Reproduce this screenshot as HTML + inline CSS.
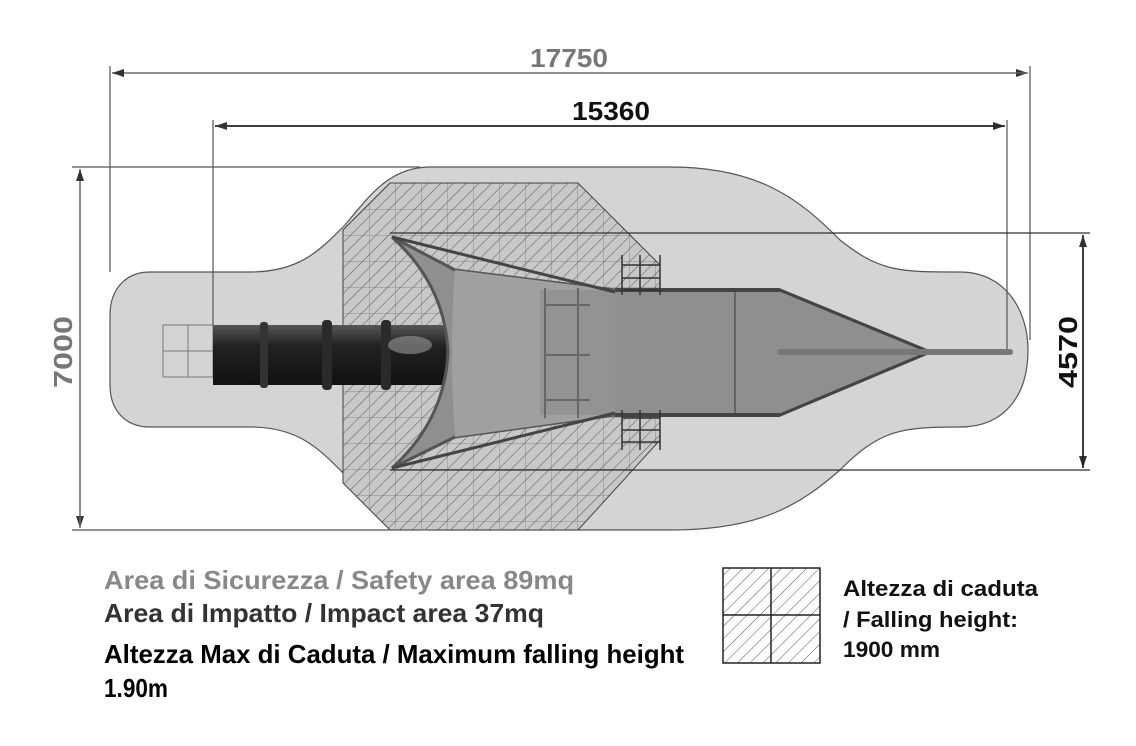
<!DOCTYPE html>
<html><head><meta charset="utf-8"><style>html,body{margin:0;padding:0;background:#fff}svg{display:block}</style></head>
<body>
<svg width="1136" height="746" viewBox="0 0 1136 746" xmlns="http://www.w3.org/2000/svg" font-family="Liberation Sans, sans-serif">
<defs>
<pattern id="hatch" width="9" height="9" patternUnits="userSpaceOnUse" patternTransform="rotate(45)">
<line x1="0" y1="0" x2="0" y2="9" stroke="#555" stroke-width="1"/>
</pattern>
<pattern id="grid" width="26" height="26" patternUnits="userSpaceOnUse" x="343" y="183">
<path d="M0 0H26M0 0V26" stroke="#8a8a8a" stroke-width="1" fill="none"/>
</pattern>
<linearGradient id="tube" x1="0" y1="0" x2="0" y2="1">
<stop offset="0" stop-color="#555"/><stop offset="0.35" stop-color="#222"/><stop offset="1" stop-color="#111"/>
</linearGradient>
<marker id="ar" markerWidth="12" markerHeight="8" refX="12" refY="4" orient="auto" markerUnits="userSpaceOnUse"><path d="M0 0L12 4L0 8z" fill="#333"/></marker>
</defs>

<path d="M150 272 H250 C300 272 320 250 345 225 C370 195 390 167 430 167 H670 C760 167 800 200 840 240 C880 272 900 272 960 272 C1005 272 1028 310 1028 350 C1028 395 1005 427 960 427 C900 427 880 430 840 470 C800 505 760 530 670 530 H430 C390 530 370 505 345 475 C320 450 300 427 250 427 H150 C125 427 110 410 110 385 V315 C110 290 125 272 150 272 Z" fill="#d4d4d4" stroke="#555" stroke-width="1.2"/>

<path d="M343 230 L390 183 H578 L660 265 V440 L578 530 H390 L343 483 Z" fill="#c8c8c8"/>
<path d="M343 230 L390 183 H578 L660 265 V440 L578 530 H390 L343 483 Z" fill="url(#grid)"/>
<path d="M343 230 L390 183 H578 L660 265 V440 L578 530 H390 L343 483 Z" fill="url(#hatch)" stroke="#444" stroke-width="1"/>

<g stroke="#555" stroke-width="1.2" fill="none">
<line x1="110" y1="66" x2="110" y2="272"/>
<line x1="1030" y1="66" x2="1030" y2="340"/>
<line x1="213" y1="120" x2="213" y2="328"/>
<line x1="1007" y1="120" x2="1007" y2="352"/>
<line x1="72" y1="167" x2="420" y2="167"/>
<line x1="72" y1="530" x2="420" y2="530"/>
<line x1="390" y1="233" x2="1090" y2="233" stroke="#333"/>
<line x1="390" y1="470" x2="1090" y2="470" stroke="#333"/>
</g>
<g stroke="#666" stroke-width="1.3">
<line x1="112" y1="73" x2="1028" y2="73" marker-end="url(#ar)"/>
<line x1="1028" y1="73" x2="112" y2="73" marker-end="url(#ar)"/>
<line x1="80" y1="169" x2="80" y2="528" marker-end="url(#ar)"/>
<line x1="80" y1="528" x2="80" y2="169" marker-end="url(#ar)"/>
</g>
<g stroke="#222" stroke-width="1.5">
<line x1="215" y1="126" x2="1005" y2="126" marker-end="url(#ar)"/>
<line x1="1005" y1="126" x2="215" y2="126" marker-end="url(#ar)"/>
<line x1="1083" y1="235" x2="1083" y2="468" marker-end="url(#ar)"/>
<line x1="1083" y1="468" x2="1083" y2="235" marker-end="url(#ar)"/>
</g>
<g font-weight="bold">
<text x="530" y="67" font-size="26" fill="#777" textLength="78" lengthAdjust="spacingAndGlyphs">17750</text>
<text x="572" y="120" font-size="26" fill="#111" textLength="78" lengthAdjust="spacingAndGlyphs">15360</text>
<text transform="translate(72 388) rotate(-90)" font-size="26" fill="#777" textLength="72" lengthAdjust="spacingAndGlyphs">7000</text>
<text transform="translate(1077 388) rotate(-90)" font-size="26" fill="#111" textLength="72" lengthAdjust="spacingAndGlyphs">4570</text>
</g>

<g stroke="#777" stroke-width="1" fill="none">
<rect x="163" y="325" width="50" height="52"/>
<line x1="188" y1="325" x2="188" y2="377"/><line x1="163" y1="351" x2="213" y2="351"/>
</g>
<rect x="213" y="325" width="240" height="60" fill="url(#tube)"/>
<rect x="260" y="322" width="8" height="66" rx="3" fill="#333"/>
<rect x="322" y="320" width="10" height="70" rx="4" fill="#2a2a2a"/>
<rect x="381" y="320" width="10" height="70" rx="4" fill="#2a2a2a"/>
<ellipse cx="410" cy="345" rx="22" ry="9" fill="#999" opacity="0.6"/>

<path d="M392 237 L455 270 L615 290 L780 290 L930 352 L780 415 L615 415 L455 437 L392 468 Q445 420 448 352 Q445 285 392 237 Z" fill="#8f8f8f" stroke="#555" stroke-width="3"/>
<path d="M455 270 L615 290 V415 L455 437 Q452 400 452 352 Q452 305 455 270 Z" fill="#a0a0a0"/>
<rect x="540" y="290" width="75" height="125" fill="#8a8a8a" opacity="0.6"/>
<g stroke="#666" stroke-width="2">
<line x1="545" y1="288" x2="545" y2="418"/><line x1="578" y1="288" x2="578" y2="418"/>
<line x1="735" y1="290" x2="735" y2="415"/>
<line x1="545" y1="305" x2="590" y2="305"/><line x1="545" y1="355" x2="590" y2="355"/><line x1="545" y1="400" x2="590" y2="400"/>
</g>
<g stroke="#444" stroke-width="3" fill="none">
<line x1="780" y1="290" x2="930" y2="352"/><line x1="780" y1="415" x2="930" y2="352"/>
<line x1="392" y1="237" x2="615" y2="292"/><line x1="392" y1="468" x2="615" y2="413"/>
<line x1="615" y1="290" x2="780" y2="290" stroke-width="4"/><line x1="615" y1="415" x2="780" y2="415" stroke-width="4"/>
</g>
<line x1="780" y1="352" x2="1010" y2="352" stroke="#777" stroke-width="6" stroke-linecap="round"/>
<g stroke="#333" stroke-width="1.5" fill="none">
<path d="M622 255 V295 M640 255 V295 M660 255 V295 M622 265 H660 M622 278 H660 M622 290 H660"/>
<path d="M622 410 V450 M640 410 V450 M660 410 V450 M622 418 H660 M622 430 H660 M622 442 H660"/>
</g>

<g font-size="26" font-weight="bold">
<text x="104" y="589" fill="#888" textLength="470" lengthAdjust="spacingAndGlyphs">Area di Sicurezza / Safety area 89mq</text>
<text x="104" y="622" fill="#333" textLength="440" lengthAdjust="spacingAndGlyphs">Area di Impatto / Impact area 37mq</text>
<text x="104" y="663" fill="#000" textLength="580" lengthAdjust="spacingAndGlyphs">Altezza Max di Caduta / Maximum falling height</text>
<text x="104" y="697" fill="#000" textLength="64" lengthAdjust="spacingAndGlyphs">1.90m</text>
</g>

<clipPath id="lc"><rect x="723" y="568" width="97" height="95"/></clipPath>
<rect x="723" y="568" width="97" height="95" fill="url(#hatch)" clip-path="url(#lc)"/>
<g stroke="#222" stroke-width="1.5" fill="none">
<rect x="723" y="568" width="97" height="95"/>
<line x1="771" y1="568" x2="771" y2="663"/><line x1="723" y1="615" x2="820" y2="615"/>
</g>
<g font-size="22" font-weight="bold" fill="#111">
<text x="843" y="596" textLength="195" lengthAdjust="spacingAndGlyphs">Altezza di caduta</text>
<text x="843" y="627" textLength="175" lengthAdjust="spacingAndGlyphs">/ Falling height:</text>
<text x="843" y="657" textLength="97" lengthAdjust="spacingAndGlyphs">1900 mm</text>
</g>
</svg>
</body></html>
